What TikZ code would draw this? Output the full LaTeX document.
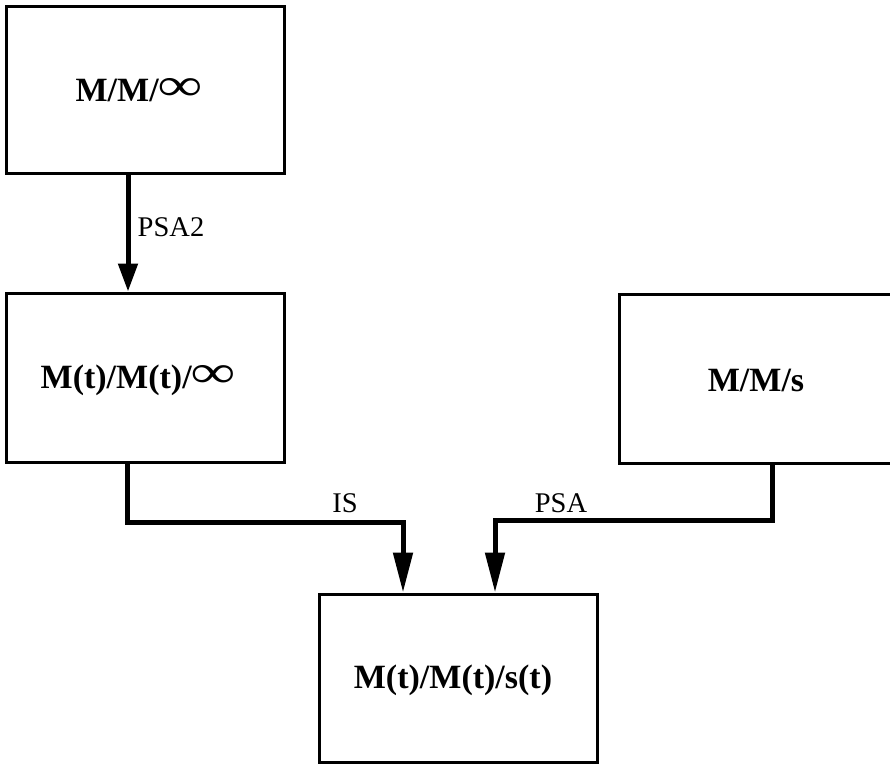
\documentclass[tikz,border=0pt]{standalone}
\usepackage{fontspec}
\usepackage{graphicx}
\setmainfont{Liberation Serif}
\usetikzlibrary{arrows.meta}
\newcommand{\binf}{\raisebox{0.5pt}{\scalebox{1.8}[1.35]{∞}}}
\begin{document}
\begin{tikzpicture}[x=1pt,y=-1pt,
  box/.style={draw=black,line width=3pt,minimum width=278pt,inner sep=0pt},
  boxtext/.style={font=\fontsize{34}{36}\selectfont\bfseries,inner sep=0pt},
  conn/.style={line width=5pt},
  lbl/.style={font=\fontsize{28.5}{30}\selectfont},
  arrS/.style={conn,-{Triangle[length=28pt,width=19pt]}},
  arrL/.style={conn,-{Triangle[length=40pt,width=19pt]}}]
\useasboundingbox (0,0) rectangle (890,764);
\node[box,minimum height=167pt] (top) at (145,89.5) {};
\node[boxtext] (topt) at (139,90) {M/M/\binf};
\node[box,minimum height=169pt] (mid) at (145,377.5) {};
\node[boxtext] (midt) at (138,380) {M(t)/M(t)/\binf};
\node[box,minimum height=169pt,minimum width=280pt] (rgt) at (759,378.5) {};
\node[boxtext] (rgtt) at (756,380) {M/M/s};
\node[box,minimum height=168pt] (bot) at (458,678) {};
\node[boxtext] (bott) at (453,680) {M(t)/M(t)/s(t)};
\coordinate (jL) at (127,522);
\coordinate (jR) at (772,520);
\draw[arrS] ([xshift=-17pt]top.south) -- ([xshift=-17pt]mid.north);
\draw[arrL] (mid.south -| jL) -- (jL) -| ([xshift=-55pt]bot.north);
\draw[arrL] (rgt.south -| jR) -- (jR) -| ([xshift=37pt]bot.north);
\node[lbl] (l1) at (171,227) {PSA2};
\node[lbl] (l2) at (345,503) {IS};
\node[lbl] (l3) at (561,503) {PSA};
\end{tikzpicture}
\end{document}
